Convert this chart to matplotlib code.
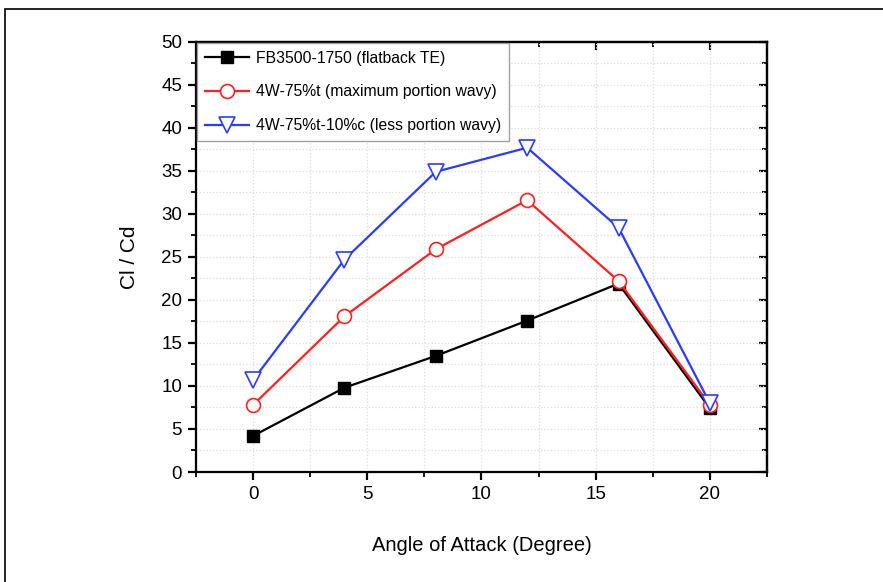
import numpy as np
import matplotlib.pyplot as plt
from matplotlib.patches import Rectangle
from matplotlib.ticker import MultipleLocator

plt.rcParams['font.family'] = ['Liberation Sans', 'DejaVu Sans']

aoa = [0, 4, 8, 12, 16, 20]
flatback = [4.2, 9.8, 13.5, 17.6, 21.9, 7.4]
wavy_max = [7.8, 18.1, 25.9, 31.6, 22.2, 7.8]
wavy_less = [10.7, 24.7, 34.9, 37.7, 28.4, 8.0]

labels = ['FB3500-1750 (flatback TE)',
          '4W-75%t (maximum portion wavy)',
          '4W-75%t-10%c (less portion wavy)']

fig = plt.figure(figsize=(8.83, 5.82), dpi=100)
ax = fig.add_axes([0.222, 0.189, 0.6466, 0.739])

# frame around the figure (right/bottom edges run off the picture)
fig.patches.append(Rectangle((5 / 883, -0.05), 1.1, 1 - 9 / 582 + 0.05,
                             transform=fig.transFigure, fill=False,
                             edgecolor='black', linewidth=1.2))

ax.plot(aoa, flatback, '-s', color='black', lw=1.6, ms=8,
        mfc='black', label=labels[0], zorder=3)
ax.plot(aoa, wavy_max, '-o', color='#ff2020', lw=1.6, ms=10,
        mfc='white', mew=1.2, label=labels[1], zorder=4)
ax.plot(aoa, wavy_less, '-v', color='#2a3cff', lw=1.6, ms=11,
        mfc='white', mew=1.2, label=labels[2], zorder=5)

ax.set_xlim(-2.5, 22.5)
ax.set_ylim(0, 50)
ax.xaxis.set_major_locator(MultipleLocator(5))
ax.xaxis.set_minor_locator(MultipleLocator(2.5))
ax.yaxis.set_major_locator(MultipleLocator(5))
ax.yaxis.set_minor_locator(MultipleLocator(2.5))

ax.grid(True, which='both', linestyle=':', color='#dcdcdc', linewidth=0.9)
ax.set_axisbelow(True)

for s in ax.spines.values():
    s.set_linewidth(1.6)

ax.tick_params(which='major', direction='out', length=6, width=1.6,
               labelsize=13.5, bottom=True, left=True, pad=4)
ax.tick_params(which='minor', direction='out', length=3.5, width=1.3,
               bottom=True, left=True)
# top and right ticks point inward
secx = ax.secondary_xaxis('top')
secx.xaxis.set_major_locator(MultipleLocator(5))
secx.xaxis.set_minor_locator(MultipleLocator(2.5))
secx.tick_params(which='major', direction='in', length=6, width=1.6, labeltop=False)
secx.tick_params(which='minor', direction='in', length=3.5, width=1.3)
secy = ax.secondary_yaxis('right')
secy.yaxis.set_major_locator(MultipleLocator(5))
secy.yaxis.set_minor_locator(MultipleLocator(2.5))
secy.tick_params(which='major', direction='in', length=6, width=1.6, labelright=False)
secy.tick_params(which='minor', direction='in', length=3.5, width=1.3)
for sa in (secx, secy):
    for s in sa.spines.values():
        s.set_linewidth(1.6)

ax.set_xlabel('Angle of Attack (Degree)', fontsize=14.5, labelpad=24)
ax.set_ylabel('Cl / Cd', fontsize=15, labelpad=16)

leg = ax.legend(loc='upper left', fontsize=11.3, frameon=True, fancybox=False,
                borderaxespad=0.05, handlelength=2.8, borderpad=0.5,
                labelspacing=1.2, handletextpad=0.5)
leg.get_frame().set_edgecolor('#a0a0a0')
leg.get_frame().set_linewidth(1.0)
leg.get_frame().set_alpha(1)

plt.savefig('out.png', dpi=100)
